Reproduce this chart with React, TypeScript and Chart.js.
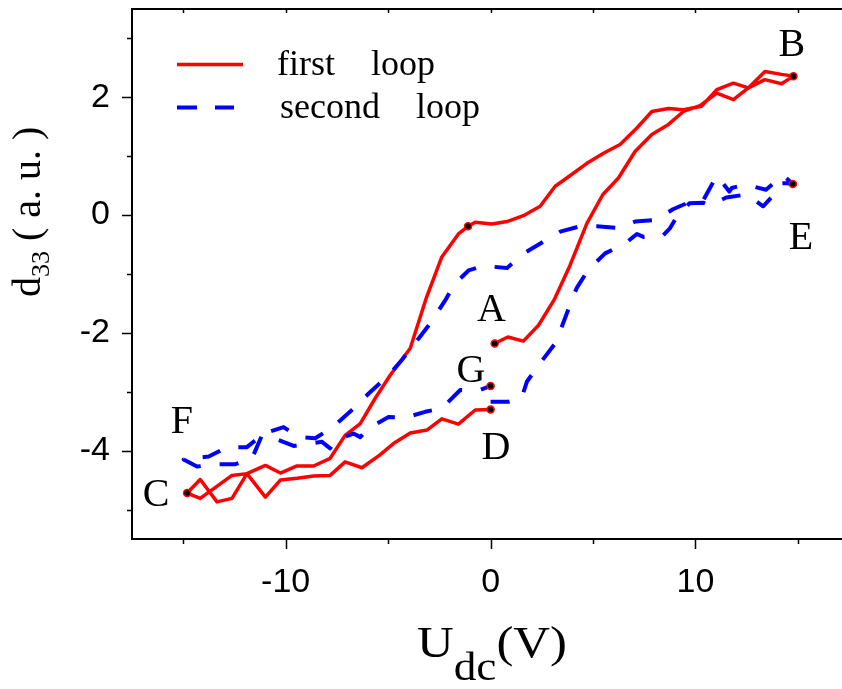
import React, { useEffect, useRef } from "react";
import { Chart, registerables } from "chart.js";

Chart.register(...registerables);

// ---------- data ----------
const firstLoopX = [
  0.2, 0.84, 1.6, 2.34, 3.1, 3.88, 4.7, 5.48, 6.24, 7.05, 7.87, 8.68, 9.41, 10.22, 11.04, 11.85, 12.58, 13.39, 14.2, 14.78,
  14.2, 13.39, 12.58, 11.85, 11.04, 10.3, 9.41, 8.68, 7.87, 7.14, 6.32, 5.51, 4.7, 3.6, 3.15, 2.42, 1.6, 0.8, 0.06, -0.75,
  -1.1, -1.57, -2.38, -3.15, -3.92, -4.9, -5.63, -6.36, -7.1, -7.83, -8.64, -9.45, -10.26, -10.99, -11.89, -12.62, -13.35,
  -14.17, -14.81, -14.17, -12.62, -11.89, -10.99, -10.26, -9.45, -8.64, -7.83, -7.1, -6.28, -5.43, -4.74, -3.92, -3.11,
  -2.38, -1.57, -0.75, 0,
];
const firstLoopY = [
  -2.18, -2.07, -2.14, -1.87, -1.44, -0.85, -0.14, 0.35, 0.63, 1.08, 1.37, 1.54, 1.76, 1.86, 2.07, 1.96, 2.16, 2.3, 2.23, 2.36,
  2.39, 2.44, 2.16, 2.24, 2.13, 1.85, 1.79, 1.81, 1.76, 1.48, 1.2, 1.05, 0.88, 0.6, 0.49, 0.15, -0.01, -0.11, -0.15, -0.12,
  -0.19, -0.32, -0.71, -1.42, -2.26, -2.72, -3.11, -3.54, -3.74, -4.13, -4.26, -4.26, -4.38, -4.25, -4.39, -4.81, -4.87,
  -4.49, -4.72, -4.81, -4.42, -4.39, -4.79, -4.5, -4.47, -4.43, -4.42, -4.19, -4.29, -4.08, -3.88, -3.7, -3.65,
  -3.46, -3.55, -3.31, -3.3,
];
const secondLoopX = [
  0, 0.87, 1.5, 1.77, 2.34, 3.15, 3.48, 3.97, 4.2, 4.78, 5.59, 6.57, 7.14, 7.46, 8.43, 8.76, 9.0, 9.7, 10.39, 10.7,
  11.5, 12.5, 13.3, 14.05, 14.2, 14.45, 14.75,
  14.26, 13.44, 12.42, 11.77, 11.65, 11.04, 10.39, 9.7, 8.9, 8.1, 7.05, 6.24, 5.18, 4.37, 3.4, 2.58, 1.53, 0.8, -0.35,
  -1.08, -1.8, -2.2, -2.95, -3.5, -4.33, -4.98, -5.95, -6.77, -7.74, -8.56, -9.37, -10.1, -11.08, -11.89, -12.86, -13.76,
  -14.98, -14.33, -13.35, -12.46, -11.64, -11.16, -10.35, -9.61, -8.23, -7.83, -7.58, -6.69, -6.36, -5.95, -4.98, -4.17,
  -3.19, -2.38, -1.48, -0.59, 0,
];
const secondLoopY = [
  -3.17, -3.17, -3.12, -2.83, -2.55, -2.18, -1.89, -1.44, -1.24, -0.92, -0.65, -0.48, -0.32, -0.37, -0.34, -0.22, -0.08, 0.2, 0.21, 0.16,
  0.3, 0.35, 0.15, 0.43, 0.54, 0.54, 0.53,
  0.68, 0.43, 0.52, 0.46, 0.4, 0.67, 0.26, 0.22, 0.1, -0.08, -0.11, -0.22, -0.19, -0.19, -0.28, -0.45, -0.67, -0.9, -0.86,
  -0.94, -1.19, -1.44, -1.84, -2.09, -2.46, -2.72, -3.03, -3.31, -3.61, -3.79, -3.77, -3.6, -3.71, -3.94, -3.94, -4.1,
  -4.15, -4.27, -4.23, -4.23, -4.13, -3.74, -3.82, -3.92, -3.85, -3.96, -3.82, -3.71, -3.77, -3.62, -3.43, -3.44,
  -3.34, -3.28, -2.97, -2.98, -2.9,
];
const markerX = [0.2, 14.78, -14.81, 0, 14.75, 0, -1.1];
const markerY = [-2.18, 2.36, -4.72, -3.3, 0.53, -2.9, -0.19];

const pointLetters = ["A", "B", "C", "D", "E", "F", "G"];
const pointLetterX = [0.04, 14.7, -16.32, 0.26, 15.15, -15.06, -0.96];
const pointLetterY = [-1.6, 2.9, -4.74, -3.94, -0.38, -3.51, -2.64];

const seriesNames = ["first    loop", "second    loop"];
const xMajorTicks = [-10, 0, 10];
const xMinorTicks = [-15, -5, 5, 15];
const yMajorTicks = [-4, -2, 0, 2];
const yMinorTicks = [-5, -3, -1, 1, 3];
const topTicks = [-15, -10, -5, 0, 5, 10, 15];

const SERIF = '"Liberation Serif", "Times New Roman", serif';
const SANS = '"Liberation Sans", Arial, sans-serif';

const RED = "#ff0000";
const BLUE = "#0000ff";

export default function App() {
  const ref = useRef<HTMLCanvasElement>(null);

  useEffect(() => {
    const canvas = ref.current;
    if (!canvas) return;
    const pts = (xs: number[], ys: number[]) => xs.map((x, i) => ({ x, y: ys[i] }));

    const decor = {
      id: "decor",
      afterDraw(chart: any) {
        const ctx = chart.ctx as CanvasRenderingContext2D;
        const a = chart.chartArea;
        const xs = chart.scales.x;
        const ys = chart.scales.y;
        const W = chart.width;
        ctx.save();
        // the frame's right side lies outside the picture: keep that strip clear
        ctx.fillStyle = "#fff";
        ctx.fillRect(xs.getPixelForValue(16.6), a.top + 2, W, a.bottom - a.top - 4);
        // frame (left, bottom, top)
        ctx.strokeStyle = "#000";
        ctx.lineWidth = 2;
        ctx.lineCap = "butt";
        ctx.beginPath();
        ctx.moveTo(W + 2, a.top);
        ctx.lineTo(a.left, a.top);
        ctx.lineTo(a.left, a.bottom);
        ctx.lineTo(W + 2, a.bottom);
        ctx.stroke();
        ctx.lineWidth = 1.5;
        ctx.beginPath();
        yMajorTicks.forEach((v) => {
          const p = Math.round(ys.getPixelForValue(v)) + 0.5;
          ctx.moveTo(a.left, p);
          ctx.lineTo(a.left - 10, p);
        });
        yMinorTicks.forEach((v) => {
          const p = Math.round(ys.getPixelForValue(v)) + 0.5;
          ctx.moveTo(a.left, p);
          ctx.lineTo(a.left - 5, p);
        });
        xMajorTicks.forEach((v) => {
          const p = Math.round(xs.getPixelForValue(v)) + 0.5;
          ctx.moveTo(p, a.bottom);
          ctx.lineTo(p, a.bottom + 10);
        });
        xMinorTicks.forEach((v) => {
          const p = Math.round(xs.getPixelForValue(v)) + 0.5;
          ctx.moveTo(p, a.bottom);
          ctx.lineTo(p, a.bottom + 5);
        });
        topTicks.forEach((v) => {
          const p = Math.round(xs.getPixelForValue(v)) + 0.5;
          ctx.moveTo(p, a.top);
          ctx.lineTo(p, a.top + 4);
        });
        ctx.stroke();

        // legend
        ctx.lineWidth = 3.5;
        ctx.strokeStyle = RED;
        ctx.beginPath();
        ctx.moveTo(177, 64.5);
        ctx.lineTo(243, 64.5);
        ctx.stroke();
        ctx.lineWidth = 4;
        ctx.strokeStyle = BLUE;
        ctx.setLineDash([20, 18]);
        ctx.beginPath();
        ctx.moveTo(177, 107.5);
        ctx.lineTo(234, 107.5);
        ctx.stroke();
        ctx.setLineDash([]);
        ctx.fillStyle = "#000";
        ctx.font = `36px ${SERIF}`;
        ctx.textAlign = "left";
        ctx.textBaseline = "alphabetic";
        ctx.fillText(seriesNames[0], 277, 75);
        ctx.fillText(seriesNames[1], 280, 118);

        // point letters
        ctx.font = `40px ${SERIF}`;
        ctx.textAlign = "center";
        ctx.textBaseline = "middle";
        pointLetters.forEach((t, i) => {
          ctx.fillText(t, xs.getPixelForValue(pointLetterX[i]), ys.getPixelForValue(pointLetterY[i]) + 1);
        });

        // x axis title: U_dc(V)
        ctx.save();
        ctx.textAlign = "left";
        ctx.textBaseline = "alphabetic";
        ctx.translate(417, 657);
        ctx.scale(1.13, 1);
        let x = 0;
        ctx.font = `45px ${SERIF}`;
        ctx.fillText("U", x, 0);
        x += ctx.measureText("U").width;
        ctx.font = `40px ${SERIF}`;
        ctx.fillText("dc", x, 23);
        x += ctx.measureText("dc").width;
        ctx.font = `45px ${SERIF}`;
        ctx.fillText("(V)", x, 0);
        ctx.restore();

        // y axis title: d33 ( a. u. )
        ctx.textAlign = "left";
        ctx.textBaseline = "alphabetic";
        ctx.translate(40, 297);
        ctx.rotate(-Math.PI / 2);
        let t = 0;
        ctx.font = `40px ${SERIF}`;
        ctx.fillText("d", t, 0);
        t += ctx.measureText("d").width;
        ctx.font = `26px ${SERIF}`;
        ctx.fillText("33", t, 9);
        t += ctx.measureText("33").width;
        ctx.font = `40px ${SERIF}`;
        ctx.fillText(" ( a. u. )", t, 0);
        ctx.restore();
      },
    };

    const chart = new Chart(canvas, {
      type: "scatter",
      data: {
        datasets: [
          {
            label: "markers",
            data: pts(markerX, markerY),
            showLine: false,
            pointRadius: 3.5,
            pointBackgroundColor: "#000",
            pointBorderColor: RED,
            pointBorderWidth: 1.5,
            order: 0,
          },
          {
            label: "second loop",
            data: pts(secondLoopX, secondLoopY),
            showLine: true,
            borderColor: BLUE,
            borderWidth: 4,
            borderDash: [19, 19],
            borderCapStyle: "butt",
            borderJoinStyle: "round",
            pointRadius: 0,
            tension: 0,
            order: 1,
          },
          {
            label: "first loop",
            data: pts(firstLoopX, firstLoopY),
            showLine: true,
            borderColor: RED,
            borderWidth: 3.5,
            borderJoinStyle: "round",
            pointRadius: 0,
            tension: 0,
            order: 2,
          },
        ],
      } as any,
      options: {
        animation: false,
        responsive: false,
        devicePixelRatio: 1,
        layout: { autoPadding: false, padding: { left: 0, top: 9, right: 0, bottom: 0 } },
        plugins: { legend: { display: false }, tooltip: { enabled: false } },
        events: [],
        scales: {
          x: {
            type: "linear",
            min: -17.5,
            max: 17.15,
            afterBuildTicks: (s: any) => {
              s.ticks = xMajorTicks.map((v) => ({ value: v }));
            },
            afterFit: (s: any) => {
              s.height = 150;
              s.paddingLeft = 0;
              s.paddingRight = 0;
            },
            grid: { display: false, drawTicks: false },
            border: { display: false },
            ticks: {
              color: "#000",
              font: { family: SANS, size: 34 },
              padding: 23,
              maxRotation: 0,
              autoSkip: false,
              callback: (v: any) => String(v),
            },
          },
          y: {
            type: "linear",
            min: -5.5,
            max: 3.5,
            afterBuildTicks: (s: any) => {
              s.ticks = yMajorTicks.map((v) => ({ value: v }));
            },
            afterFit: (s: any) => {
              s.width = 132;
              s.paddingTop = 0;
              s.paddingBottom = 0;
            },
            grid: { display: false, drawTicks: false },
            border: { display: false },
            ticks: {
              color: "#000",
              font: { family: SANS, size: 34 },
              padding: 22,
              autoSkip: false,
              callback: (v: any) => String(v),
            },
          },
        },
      } as any,
      plugins: [decor],
    });
    return () => chart.destroy();
  }, []);

  return (
    <div
      style={{
        position: "fixed",
        left: 0,
        top: 0,
        width: 842,
        height: 689,
        overflow: "hidden",
        background: "#fff",
      }}
    >
      <canvas ref={ref} width={842} height={689} style={{ width: 842, height: 689, display: "block" }} />
    </div>
  );
}
